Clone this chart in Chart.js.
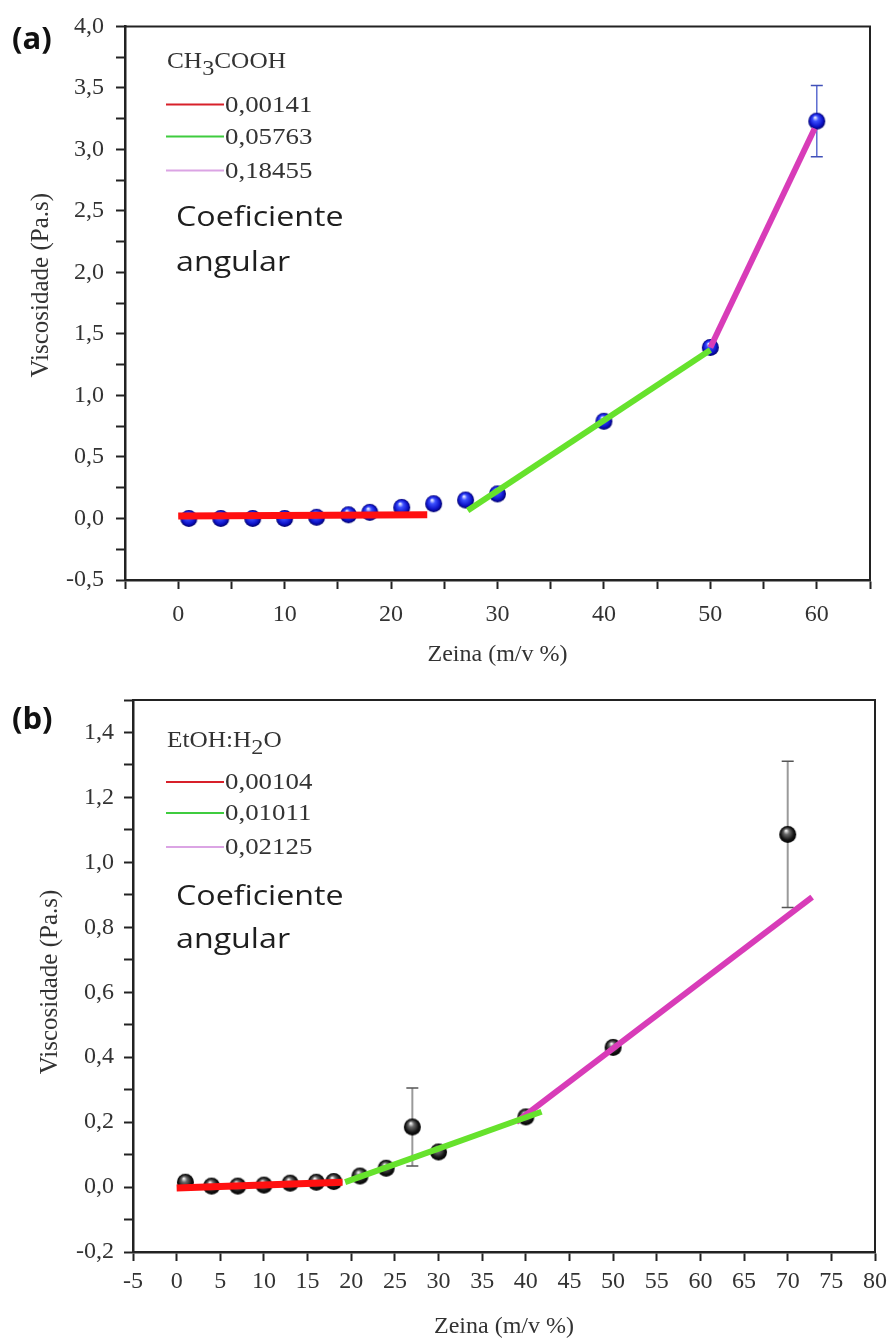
<!DOCTYPE html>
<html lang="pt">
<head>
<meta charset="utf-8">
<title>Viscosidade em função da concentração de zeína</title>
<script src="https://cdn.jsdelivr.net/npm/chart.js@4.4.1/dist/chart.umd.min.js"></script>
<style>
  html, body { margin: 0; padding: 0; background: #fff; }
  body { position: relative; width: 893px; height: 1338px; overflow: hidden; }
  #chartA, #chartB { position: absolute; left: 0; }
  #chartA { top: 0; }
  #chartB { top: 670px; }
  .tag { position: absolute; left: 12px; font: bold 31px "Open Sans", sans-serif; color: #111; line-height: 1; }
</style>
</head>
<body>
<canvas id="chartA" width="893" height="670"></canvas>
<canvas id="chartB" width="893" height="668"></canvas>
<div class="tag" style="top:22px">(a)</div>
<div class="tag" style="top:702px">(b)</div>

<script>
// (a) zeína em CH3COOH
const zeinaA = [1, 4, 7, 10, 13, 16, 18, 21, 24, 27, 30, 40, 50, 60];
const viscA  = [0.00, 0.00, 0.00, 0.00, 0.01, 0.03, 0.05, 0.09, 0.12, 0.15, 0.20, 0.79, 1.39, 3.23];
const erroA  = [0, 0, 0, 0, 0, 0, 0, 0, 0, 0, 0, 0, 0, 0.29];
const slopesA = ['0,00141', '0,05763', '0,18455'];
const fitRedA     = [[0, 0.02], [23.4, 0.03]];
const fitGreenA   = [[27.2, 0.065], [50, 1.37]];
const fitMagentaA = [[50, 1.39], [59.8, 3.17]];

// (b) zeína em EtOH:H2O
const zeinaB = [1, 4, 7, 10, 13, 16, 18, 21, 24, 27, 30, 40, 50, 70];
const viscB  = [0.015, 0.003, 0.003, 0.006, 0.012, 0.015, 0.017, 0.034, 0.058, 0.185, 0.108, 0.216, 0.43, 1.086];
const erroB  = [0, 0, 0, 0, 0, 0, 0, 0, 0, 0.12, 0, 0, 0, 0.225];
const slopesB = ['0,00104', '0,01011', '0,02125'];
const fitRedB     = [[0, -0.003], [19, 0.015]];
const fitGreenB   = [[19.3, 0.015], [41.8, 0.232]];
const fitMagentaB = [[38.9, 0.2], [72.8, 0.893]];

const FIT_COLORS = ['#ff1010', '#66e22c', '#d83cb8'];
const LEGEND_COLORS = ['#d8202a', '#3fcc3f', '#dba4e4'];
const SERIF = '"Liberation Serif", "Times New Roman", serif';

const comma = v => (Math.abs(v) < 1e-9 ? 0 : v).toFixed(1).replace('.', ',');

// shaded ball used as the point marker
function makeSphere(r, stops) {
  const c = document.createElement('canvas');
  c.width = c.height = 2 * r + 2;
  const g = c.getContext('2d');
  const cx = r + 1, cy = r + 1;
  const grad = g.createRadialGradient(cx - r * 0.2, cy - r * 0.45, r * 0.05, cx, cy, r);
  grad.addColorStop(0, stops[0]);
  grad.addColorStop(0.3, stops[1]);
  grad.addColorStop(0.75, stops[2]);
  grad.addColorStop(1, stops[3]);
  g.fillStyle = grad;
  g.beginPath();
  g.arc(cx, cy, r, 0, Math.PI * 2);
  g.fill();
  return c;
}

const blueBall  = makeSphere(8.5, ['#eef0ff', '#3c50ff', '#0d12c8', '#00006a']);
const blackBall = makeSphere(8.5, ['#f4f4f4', '#6a6a6a', '#141414', '#000']);

const toPoints = (xs, ys) => xs.map((x, i) => ({ x, y: ys[i] }));
const toLine = pts => pts.map(p => ({ x: p[0], y: p[1] }));

// text drawn a little wider than the font's natural width
function wideText(ctx, text, x, y, sx) {
  ctx.save();
  ctx.translate(x, y);
  ctx.scale(sx, 1);
  ctx.fillText(text, 0, 0);
  ctx.restore();
  return ctx.measureText(text).width * sx;
}

// closed frame: top and right edges (left/bottom come from the axes)
const framePlugin = {
  id: 'frame',
  afterDraw(chart) {
    const { ctx, chartArea: a } = chart;
    ctx.save();
    ctx.strokeStyle = '#222';
    ctx.lineWidth = 2;
    ctx.beginPath();
    ctx.moveTo(a.left, a.top);
    ctx.lineTo(a.right, a.top);
    ctx.lineTo(a.right, a.bottom);
    ctx.stroke();
    ctx.restore();
  }
};

// vertical error bars for the measured points
const errorBarPlugin = {
  id: 'errorBars',
  beforeDatasetsDraw(chart, args, opts) {
    const { ctx, scales: { x, y } } = chart;
    const ds = chart.data.datasets[opts.dataset];
    ctx.save();
    ds.data.forEach((p, i) => {
      const e = opts.errors[i];
      if (!e) return;
      const px = x.getPixelForValue(p.x);
      const top = y.getPixelForValue(p.y + e);
      const bot = y.getPixelForValue(p.y - e);
      ctx.strokeStyle = opts.color;
      ctx.lineWidth = opts.width;
      ctx.beginPath();
      ctx.moveTo(px, top);
      ctx.lineTo(px, bot);
      ctx.stroke();
      ctx.strokeStyle = opts.capColor;
      ctx.lineWidth = 1.5;
      ctx.beginPath();
      ctx.moveTo(px - 6, top);
      ctx.lineTo(px + 6, top);
      ctx.moveTo(px - 6, bot);
      ctx.lineTo(px + 6, bot);
      ctx.stroke();
    });
    ctx.restore();
  }
};

// rotated y-axis title, placed by hand
const yTitlePlugin = {
  id: 'yTitle',
  afterDraw(chart, args, o) {
    const { ctx, chartArea: a } = chart;
    ctx.save();
    ctx.translate(o.x, (a.top + a.bottom) / 2 + o.dy);
    ctx.rotate(-Math.PI / 2);
    ctx.fillStyle = '#333';
    ctx.font = '25px ' + SERIF;
    ctx.textAlign = 'center';
    ctx.textBaseline = 'middle';
    ctx.fillText(o.text, 0, 0);
    ctx.restore();
  }
};

// solvent name, slope legend and the "Coeficiente angular" note
const notesPlugin = {
  id: 'notes',
  afterDraw(chart, args, o) {
    const { ctx, chartArea: a } = chart;
    const x0 = a.left + o.dx;
    ctx.save();
    ctx.fillStyle = '#333';
    ctx.textBaseline = 'alphabetic';
    let cx = x0 + 1;
    o.solvent.forEach(part => {
      ctx.font = (part.sub ? '22px ' : '23px ') + SERIF;
      cx += wideText(ctx, part.t, cx, a.top + o.titleY + (part.sub ? 7 : 0), 1.1);
    });
    o.slopes.forEach((s, i) => {
      const yy = a.top + o.rowY[i];
      ctx.strokeStyle = LEGEND_COLORS[i];
      ctx.lineWidth = 2;
      ctx.beginPath();
      ctx.moveTo(x0, yy);
      ctx.lineTo(x0 + 58, yy);
      ctx.stroke();
      ctx.fillStyle = '#333';
      ctx.font = '24px ' + SERIF;
      ctx.textBaseline = 'middle';
      wideText(ctx, s, x0 + 59, yy + 1, 1.12);
    });
    ctx.fillStyle = '#1e1e1e';
    ctx.font = '28px "Open Sans", sans-serif';
    ctx.textBaseline = 'middle';
    wideText(ctx, 'Coeficiente', x0 + 10, a.top + o.noteY[0], 1.15);
    wideText(ctx, 'angular', x0 + 10, a.top + o.noteY[1], 1.15);
    ctx.restore();
  }
};

function axisX(min, max, labelFn, height, pad, titlePad, titleLH) {
  return {
    type: 'linear', min, max,
    afterFit: s => { s.height = height; },
    border: { display: true, color: '#222', width: 2.5 },
    grid: { drawOnChartArea: false, drawTicks: true, tickLength: 9, tickWidth: 2, tickColor: '#222' },
    ticks: {
      stepSize: 5, autoSkip: false, maxRotation: 0, padding: pad,
      color: '#333', font: { family: SERIF, size: 24 },
      callback: labelFn
    },
    title: {
      display: true, text: 'Zeina (m/v %)', color: '#333',
      font: { family: SERIF, size: 24, lineHeight: titleLH },
      padding: { top: 0, bottom: titlePad }
    }
  };
}

function axisY(min, max, step, labelFn, width, pad) {
  return {
    type: 'linear', min, max,
    afterFit: s => { s.width = width; },
    border: { display: true, color: '#222', width: 2.5 },
    grid: { drawOnChartArea: false, drawTicks: true, tickLength: 9, tickWidth: 2, tickColor: '#222' },
    ticks: {
      stepSize: step, autoSkip: false, padding: pad,
      color: '#333', font: { family: SERIF, size: 24 },
      callback: labelFn
    }
  };
}

function fitDataset(pts, color, width) {
  return {
    data: toLine(pts), showLine: true, borderColor: color, borderWidth: width,
    pointRadius: 0, order: 0, borderCapStyle: 'butt'
  };
}

// (a)
new Chart(document.getElementById('chartA'), {
  type: 'scatter',
  data: {
    datasets: [
      fitDataset(fitRedA, FIT_COLORS[0], 7),
      fitDataset(fitGreenA, FIT_COLORS[1], 6),
      fitDataset(fitMagentaA, FIT_COLORS[2], 6),
      { data: toPoints(zeinaA, viscA), pointStyle: blueBall, order: 1 }
    ]
  },
  options: {
    responsive: false,
    animation: false,
    layout: { padding: { left: 0, right: 23, top: 26, bottom: 0 } },
    scales: {
      x: axisX(-5, 65, v => (Math.round(v) % 10 === 0 && v >= 0 ? String(Math.round(v)) : ''), 90, 11, 3, 1),
      y: axisY(-0.5, 4, 0.25, v => (Math.round(v * 4) % 2 === 0 ? comma(v) : ''), 125, 12)
    },
    plugins: {
      legend: { display: false },
      tooltip: { enabled: false },
      errorBars: { dataset: 3, errors: erroA, color: '#5c6cd0', capColor: '#4050b8', width: 1.5 },
      yTitle: { text: 'Viscosidade (Pa.s)', x: 41, dy: -18 },
      notes: {
        dx: 41,
        solvent: [{ t: 'CH' }, { t: '3', sub: true }, { t: 'COOH' }],
        titleY: 42,
        slopes: slopesA,
        rowY: [78, 110, 144],
        noteY: [192, 237]
      }
    }
  },
  plugins: [framePlugin, errorBarPlugin, yTitlePlugin, notesPlugin]
});

// (b)
new Chart(document.getElementById('chartB'), {
  type: 'scatter',
  data: {
    datasets: [
      fitDataset(fitRedB, FIT_COLORS[0], 7),
      fitDataset(fitGreenB, FIT_COLORS[1], 6),
      fitDataset(fitMagentaB, FIT_COLORS[2], 6),
      { data: toPoints(zeinaB, viscB), pointStyle: blackBall, order: 1 }
    ]
  },
  options: {
    responsive: false,
    animation: false,
    layout: { padding: { left: 0, right: 18, top: 30, bottom: 0 } },
    scales: {
      x: axisX(-5, 80, v => String(Math.round(v)), 86, 6, 0, 0.9),
      y: axisY(-0.2, 1.5, 0.1, v => (Math.round(v * 10) % 2 === 0 ? comma(v) : ''), 133, 10)
    },
    plugins: {
      legend: { display: false },
      tooltip: { enabled: false },
      errorBars: { dataset: 3, errors: erroB, color: '#9a9a9a', capColor: '#555', width: 2 },
      yTitle: { text: 'Viscosidade (Pa.s)', x: 50, dy: 6 },
      notes: {
        dx: 33,
        solvent: [{ t: 'EtOH:H' }, { t: '2', sub: true }, { t: 'O' }],
        titleY: 47,
        slopes: slopesB,
        rowY: [82, 113, 147],
        noteY: [197, 240]
      }
    }
  },
  plugins: [framePlugin, errorBarPlugin, yTitlePlugin, notesPlugin]
});
</script>
</body>
</html>
